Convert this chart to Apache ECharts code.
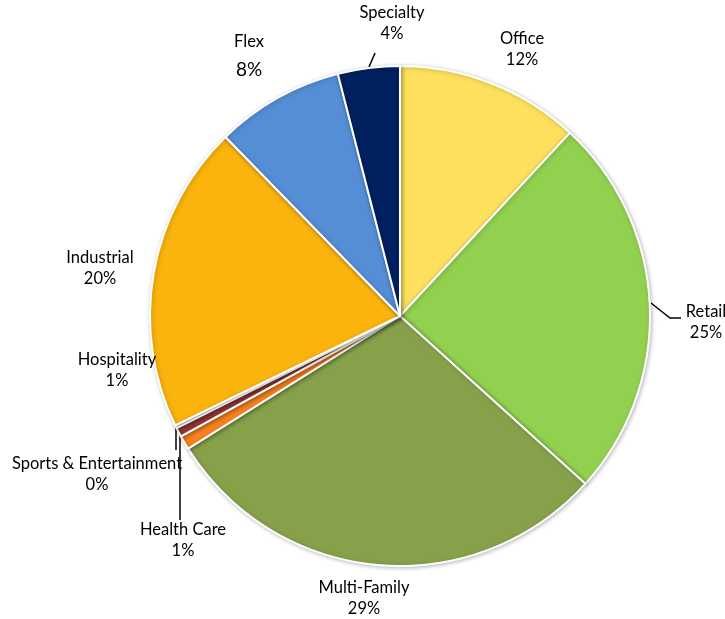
<!DOCTYPE html>
<html>
<head>
<meta charset="utf-8">
<script src="https://cdn.jsdelivr.net/npm/echarts@6/dist/echarts.min.js"></script>
<style>
  html, body { margin: 0; padding: 0; background: #fff; }
  #chart { width: 725px; height: 619px; }
</style>
</head>
<body>
<div id="chart"></div>
<script>
// property types, clockwise from 12 o'clock
var categories = ['Office', 'Retail', 'Multi-Family', 'Health Care', 'Hospitality',
    'Sports & Entertainment', 'Industrial', 'Flex', 'Specialty'];
var shares = [11.9, 24.8, 29.4, 0.9, 0.6, 0.2, 19.9, 8.3, 4.0];
var colors = ['#FDE05D', '#92D050', '#87A14B', '#F9821F', '#953735',
    '#F2DCDB', '#FBB40D', '#558ED5', '#002060'];

// where each label sits (center of the text block) and its leader line, if any
var labelAt = {
    'Office': [522, 49],
    'Retail': [706, 322],
    'Multi-Family': [364, 598],
    'Health Care': [183, 540],
    'Hospitality': [117, 370],
    'Sports & Entertainment': [97, 474],
    'Industrial': [100, 268],
    'Flex': [249, 59],
    'Specialty': [392, 23]
};
var leaders = {
    'Retail': [[651, 303], [670, 318], [681, 318]],
    'Specialty': [[369, 67], [372, 60], [375, 53]],
    'Sports & Entertainment': [[176, 425], [176, 438], [176, 450]],
    'Health Care': [[180, 428], [180, 470], [180, 520]]
};

var chart = echarts.init(document.getElementById('chart'));

var data = categories.map(function (name, i) {
    return {
        name: name,
        value: shares[i],
        itemStyle: { color: colors[i] },
        labelLine: { show: !!leaders[name] }
    };
});

chart.setOption({
    animation: false,
    series: [{
        type: 'pie',
        center: [400, 316],
        radius: 250,
        startAngle: 90,
        clockwise: true,
        avoidLabelOverlap: false,
        minAngle: 0,
        itemStyle: {
            borderColor: '#fff',
            borderWidth: 2,
            shadowBlur: 4,
            shadowOffsetX: 1,
            shadowOffsetY: 1,
            shadowColor: 'rgba(0,0,0,0.25)'
        },
        label: {
            show: true,
            position: 'outside',
            fontFamily: 'Lato',
            fontSize: 16.5,
            color: '#000',
            lineHeight: 21,
            align: 'center',
            formatter: function (p) {
                if (p.name === 'Flex') {
                    return p.name + '\n{big|' + Math.round(p.percent) + '%}';
                }
                return p.name + '\n' + Math.round(p.percent) + '%';
            },
            rich: {
                big: { fontFamily: 'Lato', fontSize: 19, color: '#000', lineHeight: 34 }
            }
        },
        labelLine: {
            lineStyle: { color: '#000', width: 1.5 }
        },
        labelLayout: function (params) {
            var name = categories[params.dataIndex];
            var pos = labelAt[name];
            var out = {
                x: pos[0],
                y: pos[1],
                align: 'center',
                verticalAlign: 'middle'
            };
            if (leaders[name]) {
                out.labelLinePoints = leaders[name];
            }
            return out;
        },
        data: data
    }]
});
</script>
</body>
</html>
